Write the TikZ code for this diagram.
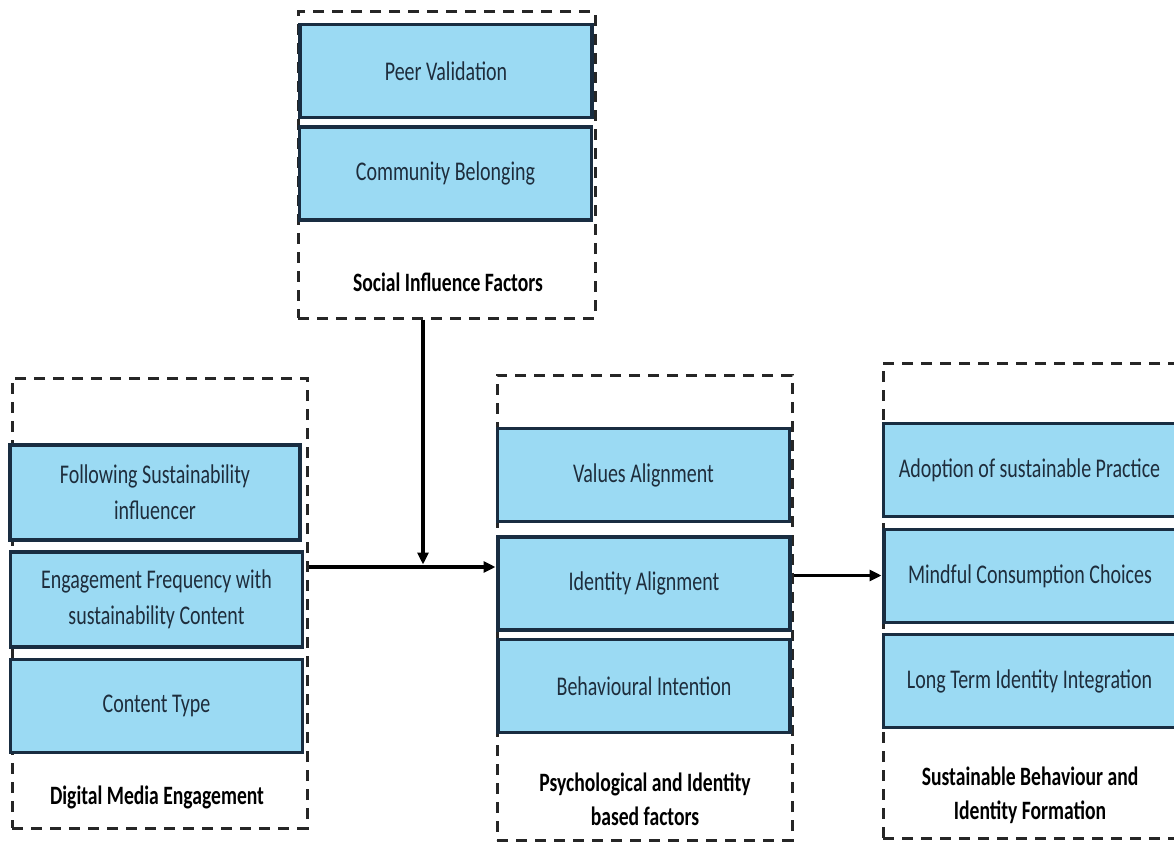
\documentclass[tikz,border=0pt]{standalone}
\usepackage{fontspec}
\setmainfont{Carlito}[FakeStretch=0.74]
\usetikzlibrary{arrows.meta}
\definecolor{boxblue}{RGB}{155,218,243}
\definecolor{boxline}{RGB}{25,45,65}
\definecolor{boxtext}{RGB}{30,45,60}

\begin{document}
\begin{tikzpicture}[x=1pt,y=-1pt,
  item/.style={draw=boxline, line width=3.5pt, fill=boxblue, text=boxtext, minimum width=292pt, minimum height=93pt, align=center, inner sep=0pt, font=\fontsize{27}{36}\selectfont},
  group/.style={draw=black!85, line width=3pt, dash pattern=on 11pt off 8pt},
  grouplabel/.style={align=center, font=\fontsize{26.5}{34}\selectfont\bfseries},
  link/.style={line width=3.2pt, -{Triangle[length=12pt,width=11pt]}}]
\useasboundingbox (0,0) rectangle (1174,842);

\node[group, minimum width=297pt, minimum height=306pt] (sif) at (446.5,165) {};
\node[group, minimum width=295pt, minimum height=450pt] (dme) at (159.5,603) {};
\node[group, minimum width=295pt, minimum height=465pt] (pib) at (644.5,607.5) {};
\node[group, minimum width=300pt, minimum height=475pt] (sbf) at (1033,600.5) {};

\node[item] (pv) at (446,71) {Peer Validation};
\node[item] (cb) at (445.5,173.5) {Community Belonging};
\node[grouplabel] (sifl) at (448,282) {Social Influence Factors};

\node[item, minimum width=290pt, minimum height=95pt] (fsi) at (155,492.5) {Following Sustainability\\influencer};
\node[item, minimum height=95pt] (efs) at (156.5,599.5) {Engagement Frequency with\\sustainability Content};
\node[item] (ct) at (156.5,706) {Content Type};
\node[grouplabel] (dmel) at (157,797) {Digital Media Engagement};

\node[item] (va) at (643.5,475) {Values Alignment};
\node[item] (ida) at (644,583.5) {Identity Alignment};
\node[item] (bi) at (644,686) {Behavioural Intention};
\node[grouplabel] (pibl) at (645,799) {Psychological and Identity\\based factors};

\node[item] (asp) at (1029.5,470) {Adoption of sustainable Practice};
\node[item] (mcc) at (1030,576) {Mindful Consumption Choices};
\node[item] (lti) at (1029.5,681) {Long Term Identity Integration};
\node[grouplabel] (sbfl) at (1030,795) {Sustainable Behaviour and\\Identity Formation};

\coordinate (join) at (423,567);
\draw[link] (sif.south -| join) -- ([yshift=2.5pt]join);
\draw[link] (dme.east |- join) -- (pib.west |- join);
\draw[link] ([yshift=8pt]ida.east -| pib.east) -- ([yshift=8pt]ida.east -| sbf.west);
\end{tikzpicture}
\end{document}
